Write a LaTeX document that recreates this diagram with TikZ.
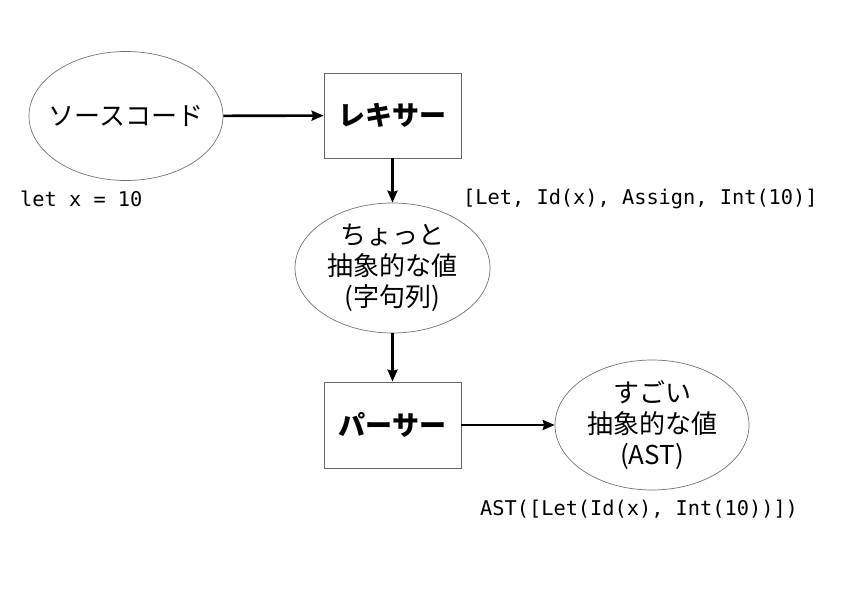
\documentclass[tikz,border=0pt]{standalone}
\usepackage{fontspec}
\newfontfamily\jp{Noto Sans CJK JP}
\newfontfamily\mono{DejaVu Sans Mono}
\usetikzlibrary{shapes.geometric,arrows.meta}
\tikzset{
  val/.style={ellipse, draw=black!55, line width=0.7pt, inner sep=0pt, align=center,
    font=\jp\fontsize{26}{31}\selectfont, minimum width=194pt, minimum height=129pt},
  proc/.style={rectangle, draw=black!60, line width=0.8pt, inner sep=0pt,
    font=\jp\bfseries\fontsize{27}{31}\selectfont, minimum width=137pt, minimum height=85pt},
  codelbl/.style={anchor=west, inner sep=0pt, font=\mono\fontsize{20.3}{24}\selectfont},
  flow/.style={-{Stealth[length=12pt,width=10pt,inset=1.5pt]}, line width=2.6pt, black}
}
\begin{document}
\begin{tikzpicture}[x=1pt,y=-1pt]
\useasboundingbox (0,0) rectangle (842,596);
\node[val] (src) at (126,116) {\makebox[0pt]{ソースコード}};
\node[proc] (lexer) at (392.5,115.5) {レキサー};
\node[val, minimum width=195pt, minimum height=130pt] (tokens) at (392.5,268) {ちょっと\\抽象的な値\\(字句列)};
\node[proc, minimum height=86pt] (parser) at (392.5,425) {パーサー};
\node[val, minimum width=194pt, minimum height=130pt] (ast) at (652,425) {すごい\\抽象的な値\\(AST)};
\node[codelbl] (srclbl) at (20,199) {let x = 10};
\node[codelbl] (toklbl) at (463,199) {[Let, Id(x), Assign, Int(10)]};
\node[codelbl] (astlbl) at (480,509) {AST([Let(Id(x), Int(10))])};
\draw[flow] (src) -- (lexer);
\draw[flow] (lexer) -- (tokens);
\draw[flow] (tokens) -- (parser);
\draw[flow] (parser) -- (ast);
\end{tikzpicture}
\end{document}
